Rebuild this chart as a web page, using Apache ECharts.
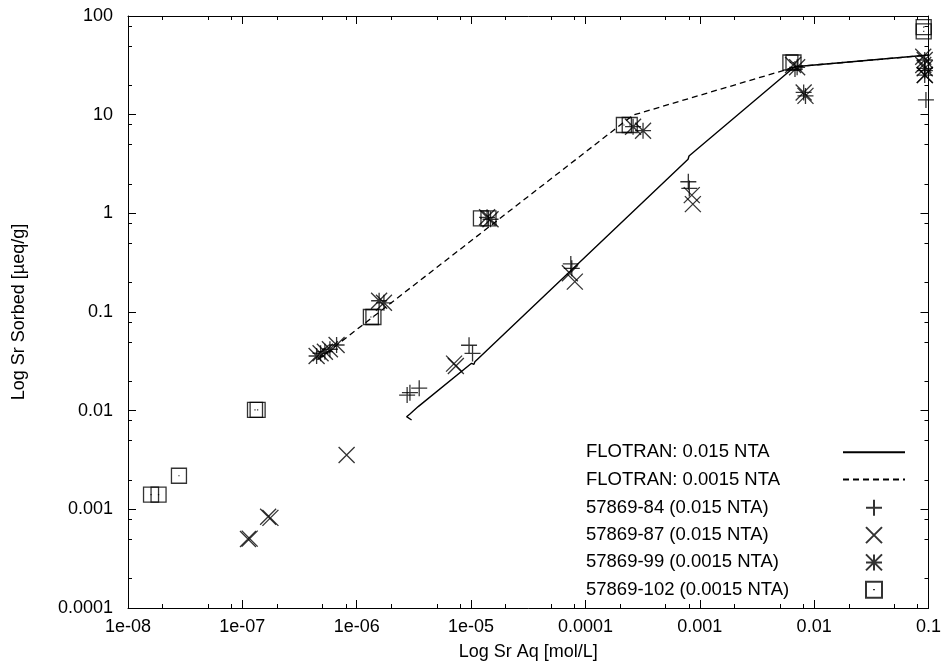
<!DOCTYPE html>
<html><head><meta charset="utf-8">
<script src="https://cdn.jsdelivr.net/npm/echarts@6/dist/echarts.min.js"></script>
<style>html,body{margin:0;padding:0;background:#fff}#c{width:944px;height:668px}</style>
</head><body><div id="c"></div>
<script>
const xTickLabels = ['1e-08','1e-07','1e-06','1e-05','0.0001','0.001','0.01','0.1'];
const yTickLabels = ['0.0001','0.001','0.01','0.1','1','10','100'];
const X_MIN = 1e-8, X_MAX = 0.1, Y_MIN = 1e-4, Y_MAX = 100;
const minorMultipliers = [2, 5, 8];

const flotran015 = [[3.02e-6,0.00805],[2.73e-6,0.00869],[2.92e-6,0.00925],[3.45e-6,0.011],[1.01e-5,0.0302],[1.06e-5,0.0295],[1.08e-5,0.0313],[7.9e-4,3.53],[8.05e-4,3.81],[6.76e-3,30.6],[0.1,40.2]];
const flotran0015 = [[4.6e-7,0.033],[2.61e-4,9.9],[5.53e-3,28.3],[6.76e-3,30.6],[0.1,40.2]];
const s84 = [[2.76e-6,0.0144],[2.92e-6,0.0152],[3.52e-6,0.0169],[9.6e-6,0.046],[1.03e-5,0.038],[7.45e-5,0.307],[7.6e-5,0.277],[7.94e-4,2.09],[8.1e-4,1.79],[6.8e-3,29],[0.093,28],[0.095,14.1]];
const s87 = [[1.12e-7,5.0e-4],[1.16e-7,5.05e-4],[1.68e-7,8.4e-4],[1.76e-7,8.2e-4],[8.16e-7,3.56e-3],[7.1e-6,0.030],[7.36e-6,0.0284],[7.31e-5,0.247],[8.08e-5,0.203],[8.51e-4,1.53],[8.7e-4,1.24],[6.55e-3,31.9],[0.09,38.7],[0.09,31.9],[0.093,25.2]];
const s99 = [[4.46e-7,0.0358],[4.83e-7,0.0382],[5.27e-7,0.0396],[5.83e-7,0.0419],[6.67e-7,0.0463],[1.57e-6,0.130],[1.73e-6,0.124],[1.38e-5,0.912],[1.48e-5,0.871],[2.61e-4,7.55],[3.19e-4,6.88],[7.1e-3,30.2],[8.1e-3,16.8],[8.4e-3,15.5],[0.0927,35.8],[0.0927,29.5],[0.0927,25.2]];
const s102 = [[1.59e-8,1.41e-3],[1.85e-8,1.41e-3],[2.79e-8,2.19e-3],[1.29e-7,0.0102],[1.36e-7,0.0102],[1.33e-6,0.089],[1.4e-6,0.089],[1.22e-5,0.887],[1.42e-5,0.887],[2.17e-4,7.86],[2.44e-4,7.86],[6.2e-3,33.8],[6.6e-3,33.8],[0.0908,77],[0.0908,70]];

const names = ['FLOTRAN: 0.015 NTA','FLOTRAN: 0.0015 NTA','57869-84 (0.015 NTA)','57869-87 (0.015 NTA)','57869-99 (0.0015 NTA)','57869-102 (0.0015 NTA)'];

function minorTicks(lo, hi){
  const out=[];
  for(let e=Math.round(Math.log10(lo)); e<Math.round(Math.log10(hi)); e++){
    minorMultipliers.forEach(m=>out.push(m*Math.pow(10,e)));
  }
  return out;
}
const minorX = minorTicks(X_MIN, X_MAX);
const minorY = minorTicks(Y_MIN, Y_MAX);

const FONT = 'Liberation Sans';
const txt = {fontFamily: FONT, fontSize: 18, color: '#000'};
const lineBlack = {color:'#000', width:1};

const chart = echarts.init(document.getElementById('c'), null, {renderer:'canvas'});

const symPlus = 'path://M5,0L5,10M0,5L10,5';
const symCross = 'path://M0,0L10,10M10,0L0,10';
const symStar = 'path://M5,0L5,10M0,5L10,5M0,0L10,10M10,0L0,10';
const symSquare = 'path://M0,0L10,0L10,10L0,10ZM5,4.6L5,5.4';

function scatter(name, data, sym, size){
  return {type:'scatter', name, data, symbol: sym, symbolSize: size, symbolKeepAspect:true,
    itemStyle:{color:'none', borderColor:'#000', borderWidth:1.3}, z:5, silent:true};
}

const xBase = {type:'log', logBase:10, min:X_MIN, max:X_MAX, splitNumber:7, splitLine:{show:false},
  axisLine:{show:true, lineStyle:lineBlack}, axisTick:{show:true, inside:true, length:8, lineStyle:lineBlack}, minorTick:{show:false}};
const yBase = {type:'log', logBase:10, min:Y_MIN, max:Y_MAX, splitNumber:6, splitLine:{show:false},
  axisLine:{show:true, lineStyle:lineBlack}, axisTick:{show:true, inside:true, length:8, lineStyle:lineBlack}, minorTick:{show:false}};

const LEGEND_TOP0 = 451.7, LEGEND_STEP = 27.3;
const legends = names.map((n, i) => ({
  orient:'vertical', left:586, top: LEGEND_TOP0 + i*LEGEND_STEP - 9, align:'right', padding:0,
  itemWidth:62, itemHeight:16, symbolKeepAspect:true, selectedMode:false,
  formatter: nm => '{a|' + nm + '}',
  textStyle:{fontFamily:FONT, fontSize:18.5, color:'#000', lineHeight:18,
    rich:{a:{fontFamily:FONT, fontSize:18.5, color:'#000', width:252, align:'left', lineHeight:18}}},
  data:[n]
}));

const option = {
  animation:false,
  backgroundColor:'#fff',
  grid:{left:128, right:15, top:16, bottom:60, containLabel:false},
  xAxis:[
    Object.assign({}, xBase, {position:'bottom', name:'Log Sr Aq [mol/L]', nameLocation:'middle', nameGap:35,
      nameTextStyle:txt,
      axisLabel:Object.assign({show:true, margin:10, showMinLabel:true, showMaxLabel:true,
        formatter:v=>xTickLabels[Math.round(Math.log10(v))+8]}, txt)}),
    Object.assign({}, xBase, {position:'top', axisLabel:{show:false}})
  ],
  yAxis:[
    Object.assign({}, yBase, {position:'left', name:'Log Sr Sorbed [µeq/g]', nameLocation:'middle', nameGap:100, nameRotate:90,
      nameTextStyle:txt,
      axisLabel:Object.assign({show:true, margin:15, showMinLabel:true, showMaxLabel:true,
        formatter:v=>yTickLabels[Math.round(Math.log10(v))+4]}, txt)}),
    Object.assign({}, yBase, {position:'right', axisLabel:{show:false}})
  ],
  legend: legends,
  series:[
    {type:'line', name:names[0], data:flotran015, showSymbol:false, symbol:'none', lineStyle:{color:'#000', width:1.4, type:'solid'}, itemStyle:{color:'rgba(0,0,0,0)', borderWidth:0}, z:3, silent:true},
    {type:'line', name:names[1], data:flotran0015, showSymbol:false, symbol:'none', lineStyle:{color:'#000', width:1.3, type:[6,4]}, itemStyle:{color:'rgba(0,0,0,0)', borderWidth:0}, z:3, silent:true},
    scatter(names[2], s84, symPlus, 16),
    scatter(names[3], s87, symCross, 16),
    scatter(names[4], s99, symStar, 16),
    scatter(names[5], s102, symSquare, 15),
    {type:'custom', silent:true, clip:false, z:6, data: minorX.map(v=>[v, Y_MIN]),
      renderItem:(p, api)=>{
        const v = api.value(0);
        const b = api.coord([v, Y_MIN]), t = api.coord([v, Y_MAX]);
        const x = Math.round(b[0]) + 0.5;
        return {type:'group', children:[
          {type:'line', shape:{x1:x, y1:b[1], x2:x, y2:b[1]-4}, style:{stroke:'#000', lineWidth:1}},
          {type:'line', shape:{x1:x, y1:t[1], x2:x, y2:t[1]+4}, style:{stroke:'#000', lineWidth:1}}
        ]};
      }},
    {type:'custom', silent:true, clip:false, z:6, data: minorY.map(v=>[X_MIN, v]),
      renderItem:(p, api)=>{
        const v = api.value(1);
        const l = api.coord([X_MIN, v]), r = api.coord([X_MAX, v]);
        const y = Math.round(l[1]) + 0.5;
        return {type:'group', children:[
          {type:'line', shape:{x1:l[0], y1:y, x2:l[0]+4, y2:y}, style:{stroke:'#000', lineWidth:1}},
          {type:'line', shape:{x1:r[0], y1:y, x2:r[0]-4, y2:y}, style:{stroke:'#000', lineWidth:1}}
        ]};
      }}
  ]
};
chart.setOption(option);
</script></body></html>
